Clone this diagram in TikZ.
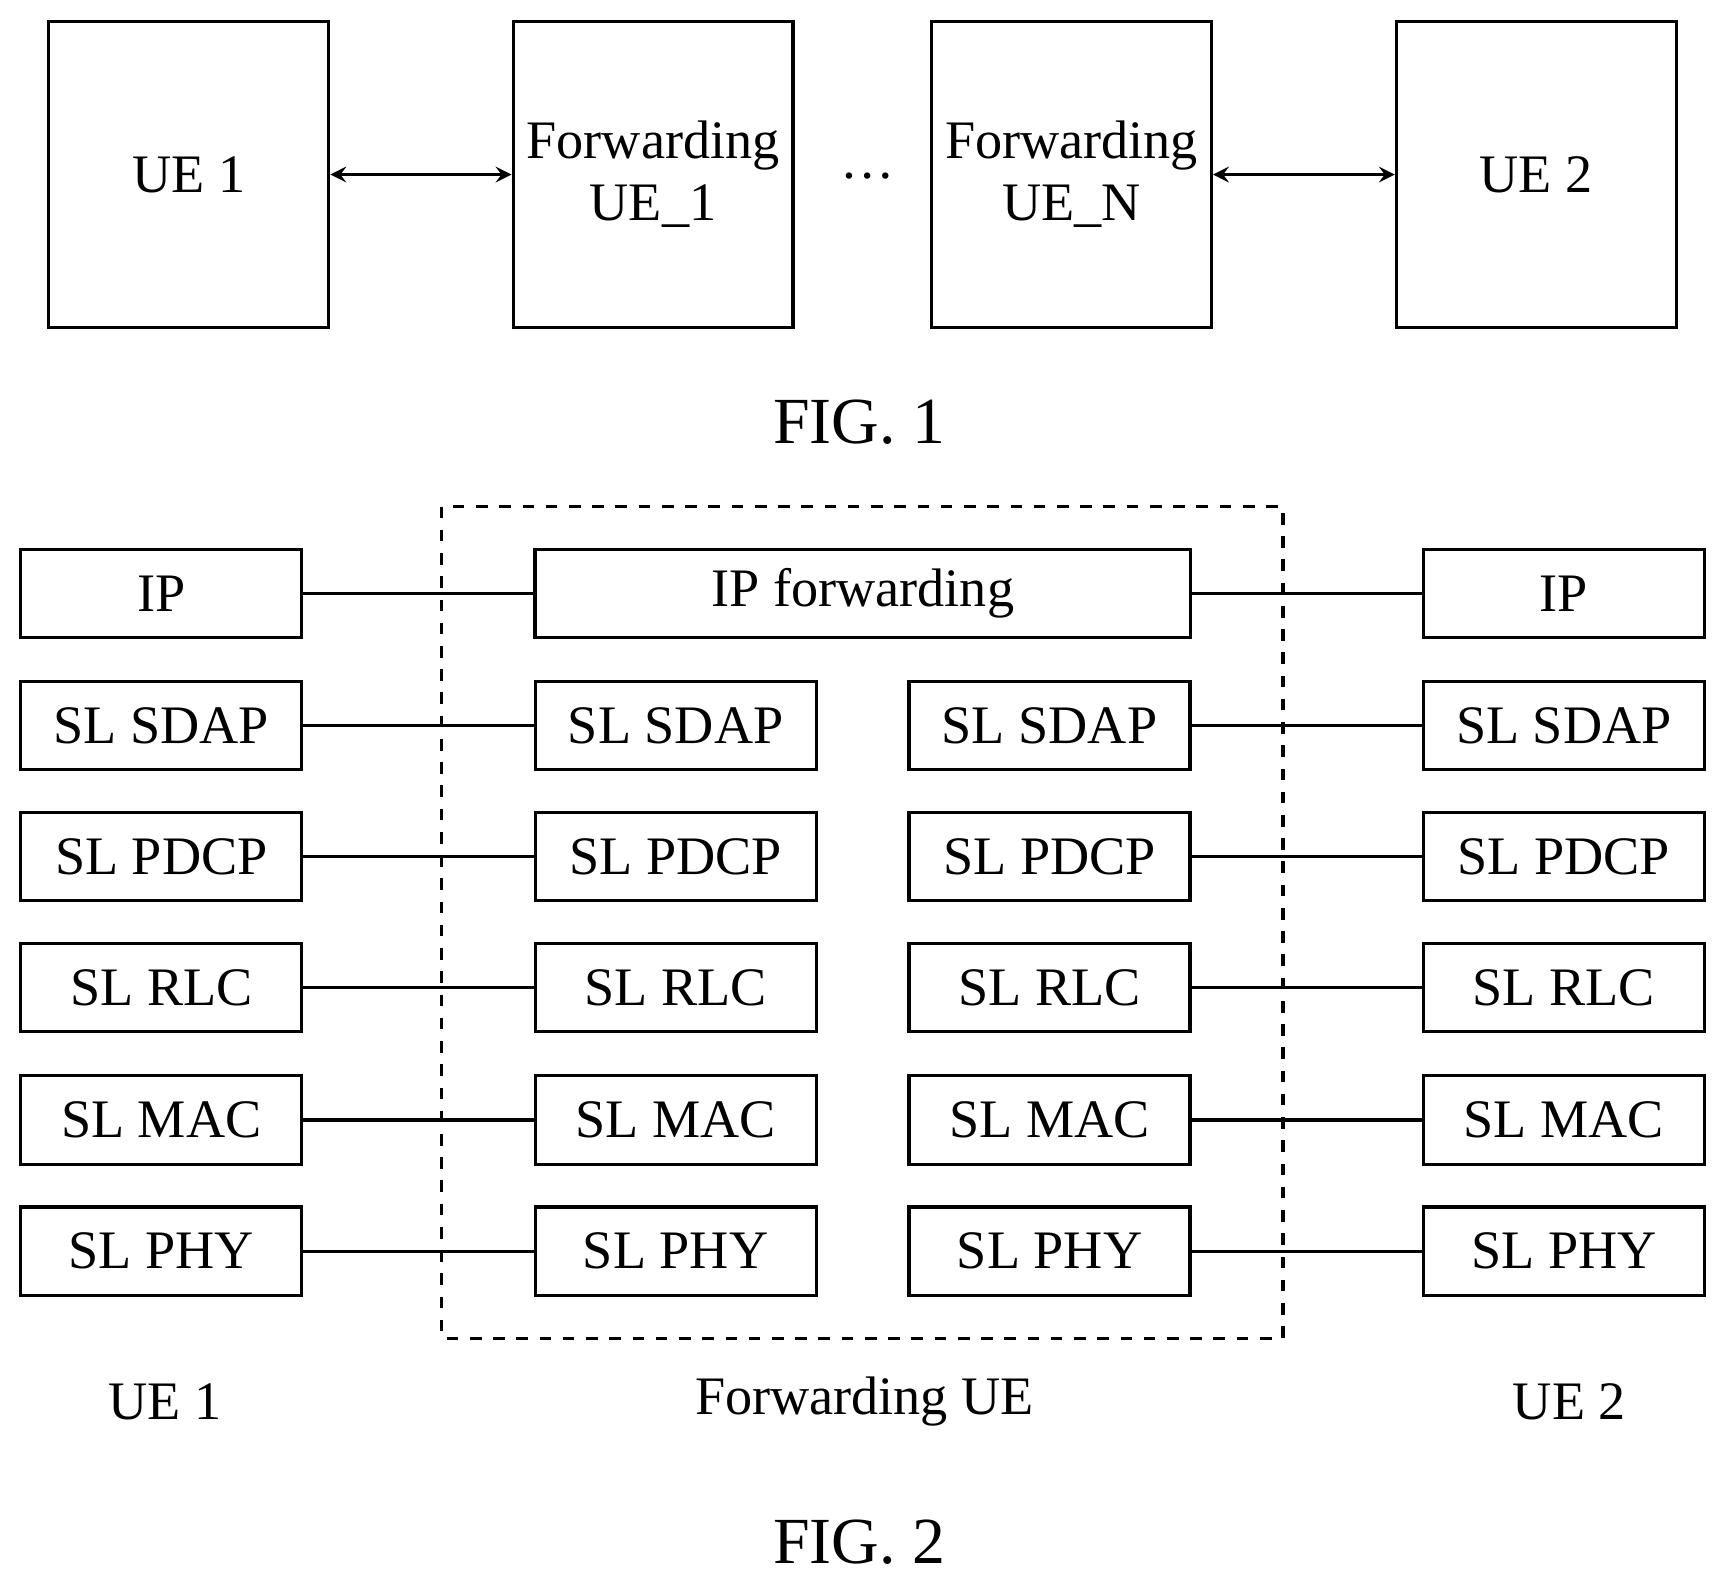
\documentclass[tikz,border=0pt]{standalone}
\usepackage{fontspec}
\setmainfont{Liberation Serif}
\usetikzlibrary{positioning}
\tikzset{
  ue/.style={draw, thick, minimum width=2.54cm, minimum height=2.77cm, align=center, font=\fontsize{14}{16}\selectfont},
  layer/.style={draw, thick, minimum width=2.55cm, minimum height=0.8cm, font=\fontsize{14}{16}\selectfont},
  figcap/.style={font=\fontsize{17}{19}\selectfont}
}
\begin{document}
\begin{tikzpicture}[x=0.01cm,y=-0.01cm]
        \useasboundingbox (0,0) rectangle (1560,1431);

        % FIG. 1
        \node[ue] (ueA) at (171.5,158.5) {UE 1};
        \node[ue] (fwdA) at (593,158.5) {Forwarding\\UE\_1};
        \node[ue] (fwdN) at (973,158.5) {Forwarding\\UE\_N};
        \node[ue] (ueB) at (1395,158.5) {UE 2};
        \node (dots) at (788,160) {\fontsize{14}{16}\selectfont\dots};
        \draw[thick,<->,>=stealth] (ueA) -- (fwdA);
        \draw[thick,<->,>=stealth] (fwdN) -- (ueB);
        \node[figcap] (figA) at (780,383) {FIG. 1};

        % FIG. 2
        \draw[thick,dashed] (401,460) rectangle (1165,1215);
        \node[layer] (ipA) at (146.5,539) {IP};
        \node[layer, minimum width=5.95cm] (ipF) at (783.5,539) {IP forwarding};
        \node[layer] (ipB) at (1420,539) {IP};
        \draw[thick] (ipA) -- (ipF);
        \draw[thick] (ipF) -- (ipB);
        \foreach \name/\lbl/\y in {sdap/SL SDAP/659, pdcp/SL PDCP/778, rlc/SL RLC/897, mac/SL MAC/1017, phy/SL PHY/1136} {
          \node[layer] (\name A) at (146.5,\y) {\lbl};
          \node[layer] (\name L) at (613.5,\y) {\lbl};
          \node[layer] (\name R) at (953,\y) {\lbl};
          \node[layer] (\name B) at (1420,\y) {\lbl};
          \draw[thick] (\name A) -- (\name L);
          \draw[thick] (\name R) -- (\name B);
        }
        \node[font=\fontsize{14}{16}\selectfont] (lblA) at (150,1273) {UE 1};
        \node[font=\fontsize{14}{16}\selectfont] (lblF) at (785,1273) {Forwarding UE};
        \node[font=\fontsize{14}{16}\selectfont] (lblB) at (1425,1273) {UE 2};
        \node[figcap] (figB) at (780,1400) {FIG. 2};
\end{tikzpicture}
\end{document}
